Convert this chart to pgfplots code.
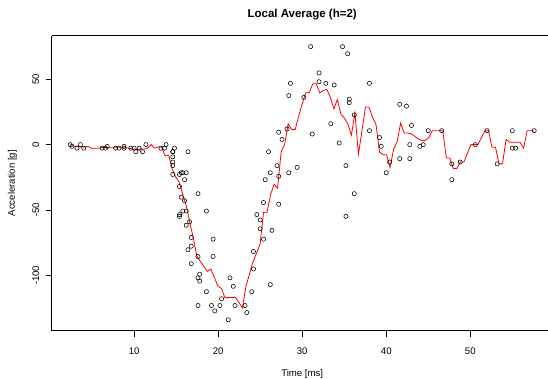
\documentclass[border=0pt]{standalone}
\usepackage{fontspec}
\setmainfont{Liberation Sans}
\usepackage{pgfplots}
\pgfplotsset{compat=1.18}
\begin{document}
\begin{tikzpicture}[x=1pt,y=1pt]
\useasboundingbox (0,0) rectangle (548,378);
\begin{axis}[
  at={(51.7pt,47.3pt)}, anchor=south west,
  scale only axis, width=496.3pt, height=295pt,
  xmin=0.192, xmax=59.247, ymin=-142.36, ymax=83.36,
  axis y line*=left,
  axis line style={line width=0.8pt, black},
  tick align=outside, major tick length=6pt,
  xtick={10,20,30,40,50}, ytick={-100,-50,0,50},
  xtick pos=left, ytick pos=left,
  tick style={line width=0.8pt, black},
  /pgf/number format/assume math mode=true,
  tick label style={font=\fontsize{9.6}{11}\selectfont},
  xticklabel style={anchor=center, yshift=-14.7pt},
  yticklabel style={xshift=-10pt, rotate=90, anchor=center},
  title={Local Average (h=2)},
  title style={at={(axis description cs:0.5047,1.0712)}, anchor=center, yshift=-6pt, inner sep=0pt, font=\bfseries\fontsize{11.5}{13}\selectfont},
  xlabel={Time [ms]},
  xlabel style={at={(axis description cs:0.5047,-0.1468)}, anchor=center, inner sep=0pt, font=\fontsize{9.6}{11}\selectfont},
  ylabel={Acceleration [g]},
  ylabel style={at={(axis description cs:-0.0790,0.5)}, anchor=center, inner sep=0pt, font=\fontsize{9.6}{11}\selectfont},
]
\addplot[only marks, mark=o, mark size=2.1pt, mark options={line width=0.55pt, draw=black}] coordinates {
(2.4,0.0) (2.6,-1.3) (3.2,-2.7) (3.6,0.0) (4.0,-2.7) (6.2,-2.7) (6.6,-2.7) (6.8,-1.3) (7.8,-2.7) (8.2,-2.7)
(8.8,-1.3) (8.8,-2.7) (9.6,-2.7) (10.0,-2.7) (10.2,-5.4) (10.6,-2.7) (11.0,-5.4) (11.4,0.0) (13.2,-2.7) (13.6,-2.7)
(13.8,0.0) (14.6,-13.3) (14.6,-5.4) (14.6,-5.4) (14.6,-9.3) (14.6,-16.0) (14.6,-22.8) (14.8,-2.7) (15.4,-22.8) (15.4,-32.1)
(15.4,-53.5) (15.4,-54.9) (15.6,-40.2) (15.6,-21.5) (15.8,-21.5) (15.8,-50.8) (16.0,-42.9) (16.0,-26.8) (16.2,-21.5) (16.2,-50.8)
(16.2,-61.7) (16.4,-5.4) (16.4,-80.4) (16.6,-59.0) (16.8,-71.0) (16.8,-91.1) (16.8,-77.7) (17.6,-37.5) (17.6,-85.6) (17.6,-123.1)
(17.6,-101.9) (17.8,-99.1) (17.8,-104.4) (18.6,-112.5) (18.6,-50.8) (19.2,-123.1) (19.4,-85.6) (19.4,-72.3) (19.6,-127.2) (20.2,-123.1)
(20.4,-117.9) (21.2,-134.0) (21.4,-101.9) (21.8,-108.4) (22.0,-123.1) (23.2,-123.1) (23.4,-128.5) (24.0,-112.5) (24.2,-95.1) (24.2,-81.8)
(24.6,-53.5) (25.0,-64.4) (25.0,-57.6) (25.4,-72.3) (25.4,-44.3) (25.6,-26.8) (26.0,-5.4) (26.2,-107.1) (26.2,-21.5) (26.4,-65.6)
(27.0,-16.0) (27.2,-45.6) (27.2,-24.2) (27.2,9.5) (27.6,4.0) (28.2,12.0) (28.4,-21.5) (28.4,37.5) (28.6,46.9) (29.4,-17.4)
(30.2,36.2) (31.0,75.0) (31.2,8.1) (32.0,54.9) (32.0,48.2) (32.8,46.9) (33.4,16.0) (33.8,45.6) (34.4,1.3) (34.8,75.0)
(35.2,-16.0) (35.2,-54.9) (35.4,69.6) (35.6,34.8) (35.6,32.1) (36.2,-37.5) (36.2,22.8) (38.0,46.9) (38.0,10.7) (39.2,5.4)
(39.4,-1.3) (40.0,-21.5) (40.4,-13.3) (41.6,30.8) (41.6,-10.7) (42.4,29.4) (42.8,0.0) (42.8,-10.7) (43.0,14.7) (44.0,-1.3)
(44.4,0.0) (45.0,10.7) (46.6,10.7) (47.8,-26.8) (47.8,-14.7) (48.8,-13.3) (50.6,0.0) (52.0,10.7) (53.2,-14.7) (55.0,10.7)
(55.0,-2.7) (55.4,-2.7) (57.6,10.7)
};
\addplot[red, line width=0.8pt, no marks] table {
x y
2.4000 -1.333
2.8182 -1.0
3.2364 -1.34
3.6545 -1.8
4.0727 -1.8
4.4909 -1.35
4.9091 -2.7
5.3273 -2.7
5.7455 -2.7
6.1636 -2.233
6.5818 -2.233
7.0000 -2.35
7.4182 -2.35
7.8364 -2.35
8.2545 -2.35
8.6727 -2.42
9.0909 -2.42
9.5091 -2.96
9.9273 -3.375
10.3455 -3.78
10.7636 -3.24
11.1818 -3.375
11.6000 -2.7
12.0182 0.0
12.4364 -2.7
12.8545 -1.8
13.2727 -1.8
13.6909 -8.622
14.1091 -8.03
14.5273 -18.53
14.9455 -24.81
15.3636 -28.795
15.7818 -38.15
16.2000 -46.61
16.6182 -59.34
17.0364 -71.35
17.4545 -85.04
17.8727 -89.36
18.2909 -93.11
18.7091 -96.875
19.1273 -95.25
19.5455 -101.56
19.9636 -108.2
20.3818 -110.02
20.8000 -117.06
21.2182 -117.06
21.6364 -116.85
22.0545 -116.85
22.4727 -120.775
22.8909 -124.9
23.3091 -108.2
23.7273 -99.08
24.1455 -89.56
24.5636 -83.07
24.9818 -76.04
25.4000 -51.86
25.8182 -51.67
26.2364 -38.12
26.6545 -30.21
27.0727 -33.31
27.4909 -5.54
27.9091 0.289
28.3273 15.78
28.7455 11.5
29.1636 11.5
29.5818 21.9
30.0000 31.27
30.4182 39.77
30.8364 39.77
31.2545 46.55
31.6727 46.55
32.0909 39.525
32.5091 41.5
32.9273 42.32
33.3455 36.17
33.7636 27.45
34.1818 34.475
34.6000 23.44
35.0182 20.27
35.4364 15.74
35.8545 7.27
36.2727 24.36
36.6909 -7.35
37.1091 10.725
37.5273 28.8
37.9455 28.8
38.3636 21.0
38.7818 15.425
39.2000 -5.8
39.6182 -7.675
40.0364 -7.675
40.4545 -17.4
40.8727 -3.675
41.2909 2.267
41.7091 16.5
42.1273 8.917
42.5455 8.917
42.9636 8.35
43.3818 6.42
43.8000 4.467
44.2182 3.133
44.6364 3.133
45.0545 5.35
45.4727 10.7
45.8909 10.7
46.3091 10.7
46.7273 10.7
47.1455 -10.267
47.5636 -10.267
47.9818 -18.267
48.4000 -18.267
48.8182 -13.3
49.2364 -13.3
49.6545 -6.65
50.0727 0.0
50.4909 0.0
50.9091 0.0
51.3273 5.35
51.7455 10.7
52.1636 10.7
52.5818 -2.0
53.0000 -2.0
53.4182 -14.7
53.8364 -14.7
54.2545 4.0
54.6727 1.767
55.0909 1.767
55.5091 1.767
55.9273 1.767
56.3455 -2.7
56.7636 10.7
57.1818 10.7
57.6000 10.7
};
\end{axis}
\end{tikzpicture}
\end{document}
